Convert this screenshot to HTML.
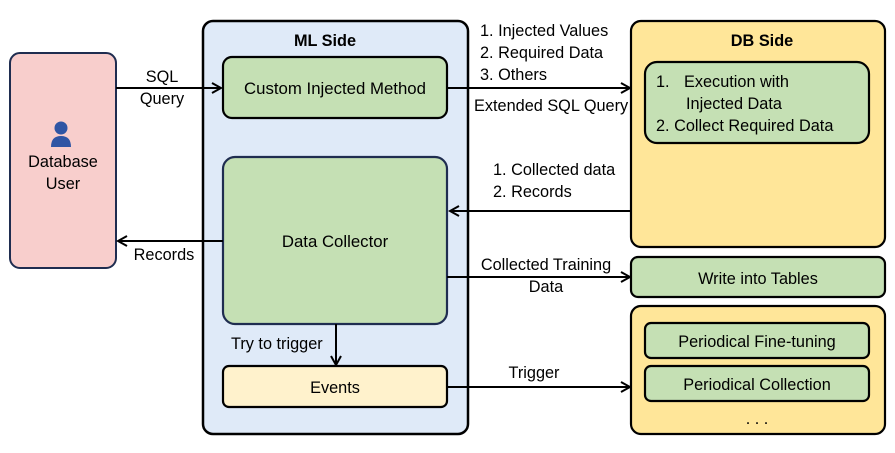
<!DOCTYPE html>
<html><head><meta charset="utf-8"><style>
body{margin:0;width:895px;height:448px;background:#fff;overflow:hidden;font-family:"Liberation Sans",sans-serif}
</style></head><body>
<svg width="895" height="448" viewBox="0 0 895 448" xmlns="http://www.w3.org/2000/svg" font-family="Liberation Sans, sans-serif" font-size="16.3" fill="#000">
<defs><marker id="a" markerWidth="12" markerHeight="12" refX="10" refY="6" orient="auto" markerUnits="userSpaceOnUse"><path d="M1,1 L10,6 L1,11" fill="none" stroke="#000" stroke-width="2"/></marker></defs>
<rect x="10" y="53" width="106" height="215" rx="10" fill="#f8cecc" stroke="#1f2d50" stroke-width="2"/>
<circle cx="61" cy="128" r="6.5" fill="#2f55a4"/>
<path d="M51,147 Q51,136 61,136 Q71,136 71,147 Z" fill="#2f55a4"/>
<text x="63" y="167" text-anchor="middle">Database</text>
<text x="63" y="189" text-anchor="middle">User</text>
<rect x="203" y="21" width="265" height="413" rx="10" fill="#dfeaf8" stroke="#000" stroke-width="2.5"/>
<text x="325" y="46" text-anchor="middle" font-weight="bold">ML Side</text>
<rect x="223" y="57" width="224" height="61" rx="9" fill="#c5e0b4" stroke="#000" stroke-width="2.2"/>
<text x="335" y="94" text-anchor="middle" font-size="16.8">Custom Injected Method</text>
<rect x="223" y="157" width="224" height="167" rx="12" fill="#c5e0b4" stroke="#1f2d50" stroke-width="2.2"/>
<text x="335" y="247" text-anchor="middle" font-size="16.8">Data Collector</text>
<rect x="223" y="366" width="224" height="41" rx="6" fill="#fff2cc" stroke="#000" stroke-width="2.2"/>
<text x="335" y="393" text-anchor="middle">Events</text>
<rect x="631" y="21" width="254" height="226" rx="10" fill="#ffe699" stroke="#000" stroke-width="2.2"/>
<text x="762" y="46" text-anchor="middle" font-weight="bold">DB Side</text>
<rect x="645" y="62" width="224" height="81" rx="12" fill="#c5e0b4" stroke="#000" stroke-width="2.2"/>
<text x="656" y="87">1.</text><text x="684" y="87">Execution with</text>
<text x="686" y="109">Injected Data</text>
<text x="656" y="131">2. Collect Required Data</text>
<rect x="631" y="257" width="254" height="40" rx="7" fill="#c5e0b4" stroke="#000" stroke-width="2.2"/>
<text x="758" y="284" text-anchor="middle">Write into Tables</text>
<rect x="631" y="306" width="254" height="128" rx="10" fill="#ffe699" stroke="#000" stroke-width="2.2"/>
<rect x="645" y="323" width="224" height="35" rx="6" fill="#c5e0b4" stroke="#000" stroke-width="2.2"/>
<text x="757" y="347" text-anchor="middle">Periodical Fine-tuning</text>
<rect x="645" y="366" width="224" height="35" rx="6" fill="#c5e0b4" stroke="#000" stroke-width="2.2"/>
<text x="757" y="390" text-anchor="middle">Periodical Collection</text>
<text x="757" y="424" text-anchor="middle">. . .</text>
<g stroke="#000" stroke-width="2" fill="none">
<line x1="116" y1="88" x2="221" y2="88" marker-end="url(#a)"/>
<line x1="447" y1="88" x2="630" y2="88" marker-end="url(#a)"/>
<line x1="631" y1="211" x2="450" y2="211" marker-end="url(#a)"/>
<line x1="223" y1="241" x2="118" y2="241" marker-end="url(#a)"/>
<line x1="447" y1="277" x2="630" y2="277" marker-end="url(#a)"/>
<line x1="447" y1="387" x2="630" y2="387" marker-end="url(#a)"/>
<line x1="336" y1="324" x2="336" y2="365" marker-end="url(#a)"/>
</g>
<text x="162" y="82" text-anchor="middle">SQL</text>
<text x="162" y="104" text-anchor="middle">Query</text>
<text x="164" y="260" text-anchor="middle">Records</text>
<text x="480" y="36">1. Injected Values</text>
<text x="480" y="58">2. Required Data</text>
<text x="480" y="80">3. Others</text>
<text x="474" y="111">Extended SQL Query</text>
<text x="493" y="175">1. Collected data</text>
<text x="493" y="197">2. Records</text>
<text x="546" y="270" text-anchor="middle">Collected Training</text>
<text x="546" y="292" text-anchor="middle">Data</text>
<text x="534" y="378" text-anchor="middle">Trigger</text>
<text x="231" y="349">Try to trigger</text>
</svg>
</body></html>
